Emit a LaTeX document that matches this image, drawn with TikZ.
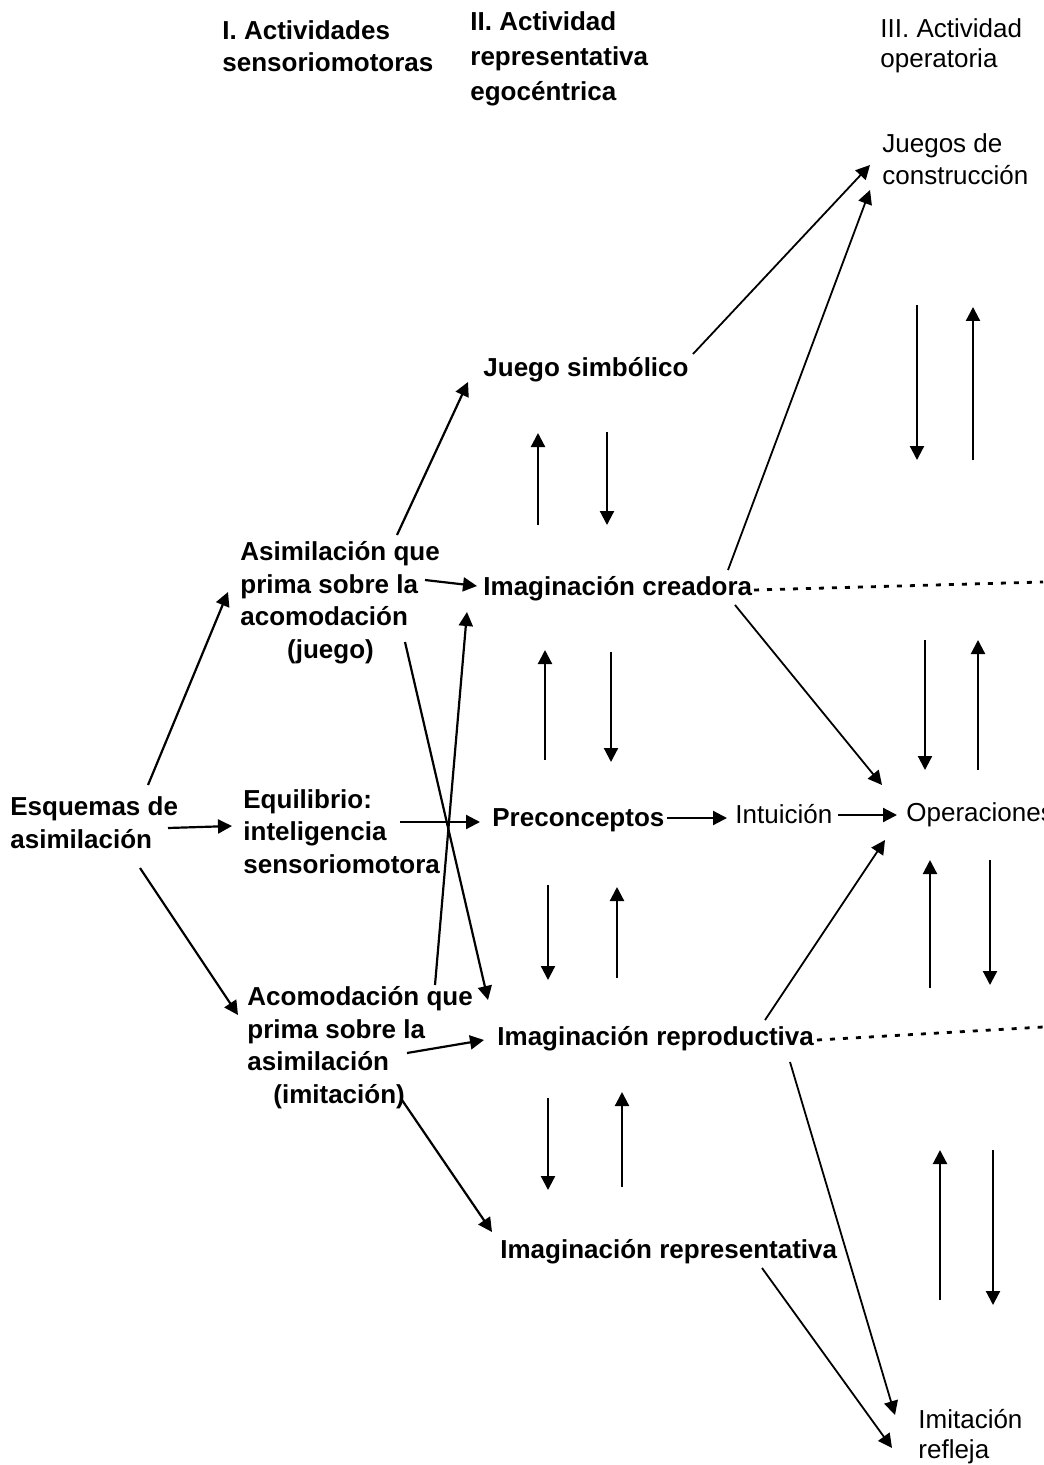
\documentclass[tikz,border=0pt]{standalone}
\usepackage{fontspec}
\setmainfont{Liberation Sans}
\usetikzlibrary{arrows.meta, calc}

\tikzset{
  box/.style={inner sep=0pt, anchor=base west, align=left,
    font=\fontsize{13}{16.2}\selectfont},
  boldbox/.style={box, font=\fontsize{13}{16.2}\selectfont\bfseries},
  flow/.style={-{Triangle[length=7pt,width=7pt]}, line width=1.1pt},
  dots/.style={line width=1.4pt, dash pattern=on 2.5pt off 4pt}
}

\begin{document}
\begin{tikzpicture}[x=0.5pt, y=-0.5pt]
\useasboundingbox (0,0) rectangle (1043,1465);

% headers (placed at the baseline of their last line)
\node (hdrA) [boldbox] at (222,72) {I. Actividades\\sensoriomotoras};
\node (hdrB) [boldbox] at (470,101) {II. Actividad\\[1.5pt]representativa\\[1.5pt]egocéntrica};
\node (hdrC) [box] at (880,68) {III. Actividad\\[-1pt]operatoria};

% sensoriomotor column
\node (esq) [boldbox] at (10,848) {Esquemas de\\asimilación};
\node (asim) [boldbox] at (240,658) {Asimilación que\\prima sobre la\\acomodación\\\hspace*{1.8em}(juego)};
\node (equi) [boldbox] at (243,873) {Equilibrio:\\inteligencia\\sensoriomotora};
\node (acom) [boldbox] at (247,1103) {Acomodación que\\prima sobre la\\asimilación\\\hspace*{1em}(imitación)};

% representative column
\node (simb) [boldbox] at (483,376) {Juego simbólico};
\node (crea) [boldbox] at (483,595) {Imaginación creadora};
\node (prec) [boldbox] at (492,826) {Preconceptos};
\node (intu) [box] at (735,823) {Intuición};
\node (repr) [boldbox] at (497,1045) {Imaginación reproductiva};
\node (rept) [boldbox] at (500,1258) {Imaginación representativa};

% operative column
\node (cons) [box] at (882,185) {Juegos de\\construcción};
\node (oper) [box] at (906,821) {Operaciones};
\node (refl) [box] at (918,1458) {Imitación\\[-1.2pt]refleja};

\coordinate (edgeA) at (1043,582);
\coordinate (edgeB) at (1043,1027);

% from the schemes
\draw[flow] ($(esq.base west)+(138,-63)$) -- ($(asim.base west)+(-12,-66)$);
\draw[flow] ($(esq.base west)+(158,-20)$) -- ($(equi.base west)+(-11,-47)$);
\draw[flow] ($(esq.base west)+(130,20)$) -- ($(acom.base west)+(-9,-88)$);

% into the representative column
\draw[flow] ($(asim.base west)+(157,-123)$) -- ($(simb.base west)+(-15,6)$);
\draw[flow] ($(asim.base west)+(185,-78)$) -- ($(crea.base west)+(-6,-9)$);
\draw[flow] ($(equi.base west)+(157,-51)$) -- ($(prec.base west)+(-12,-4)$);
\draw[flow] ($(acom.base west)+(160,-50)$) -- ($(repr.base west)+(-13,-5)$);
\draw[flow] ($(acom.base west)+(155,-3)$) -- ($(rept.base west)+(-8,-26)$);
\draw[flow] ($(asim.base west)+(165,-16)$) -- ($(repr.base west)+(-9,-45)$);
\draw[flow] ($(acom.base west)+(188,-118)$) -- ($(crea.base west)+(-16,17)$);

% vertical pairs, middle
\draw[flow] ($(crea.base west)+(55,-70)$) -- ($(simb.base west)+(55,57)$);
\draw[flow] ($(simb.base west)+(124,56)$) -- ($(crea.base west)+(124,-70)$);
\draw[flow] ($(prec.base west)+(53,-66)$) -- ($(crea.base west)+(62,55)$);
\draw[flow] ($(crea.base west)+(128,57)$) -- ($(prec.base west)+(119,-64)$);
\draw[flow] ($(prec.base west)+(56,59)$) -- ($(repr.base west)+(51,-65)$);
\draw[flow] ($(repr.base west)+(120,-67)$) -- ($(prec.base west)+(125,61)$);
\draw[flow] ($(repr.base west)+(51,53)$) -- ($(rept.base west)+(48,-68)$);
\draw[flow] ($(rept.base west)+(122,-71)$) -- ($(repr.base west)+(125,47)$);

% into the operative column
\draw[flow, line width=0.9pt] ($(simb.base west)+(210,-22)$) -- ($(cons.base west)+(-12,-20)$);
\draw[flow, line width=0.9pt] ($(crea.base west)+(245,-25)$) -- ($(cons.base west)+(-12,5)$);
\draw[flow, line width=0.9pt] ($(crea.base west)+(252,10)$) -- ($(oper.base west)+(-24,-36)$);
\draw[flow] ($(prec.base west)+(175,-8)$) -- ($(intu.base west)+(-8,-5)$);
\draw[flow] ($(intu.base west)+(103,-8)$) -- ($(oper.base west)+(-9,-6)$);
\draw[flow, line width=0.9pt] ($(repr.base west)+(268,-25)$) -- ($(oper.base west)+(-21,19)$);
\draw[flow, line width=0.9pt] ($(repr.base west)+(293,17)$) -- ($(refl.base west)+(-23,-43)$);
\draw[flow, line width=0.9pt] ($(rept.base west)+(262,10)$) -- ($(refl.base west)+(-26,-10)$);

% vertical pairs, right
\draw[flow] ($(cons.base west)+(35,120)$) -- ($(cons.base west)+(35,275)$);
\draw[flow] ($(cons.base west)+(91,275)$) -- ($(cons.base west)+(91,122)$);
\draw[flow] ($(oper.base west)+(19,-181)$) -- ($(oper.base west)+(19,-51)$);
\draw[flow] ($(oper.base west)+(72,-51)$) -- ($(oper.base west)+(72,-181)$);
\draw[flow] ($(oper.base west)+(24,167)$) -- ($(oper.base west)+(24,39)$);
\draw[flow] ($(oper.base west)+(84,39)$) -- ($(oper.base west)+(84,164)$);
\draw[flow] ($(refl.base west)+(22,-158)$) -- ($(refl.base west)+(22,-308)$);
\draw[flow] ($(refl.base west)+(75,-308)$) -- ($(refl.base west)+(75,-153)$);

% dotted links
\draw[dots] ($(crea.base west)+(271,-5)$) -- (edgeA);
\draw[dots] ($(repr.base west)+(320,-5)$) -- (edgeB);
\end{tikzpicture}
\end{document}
